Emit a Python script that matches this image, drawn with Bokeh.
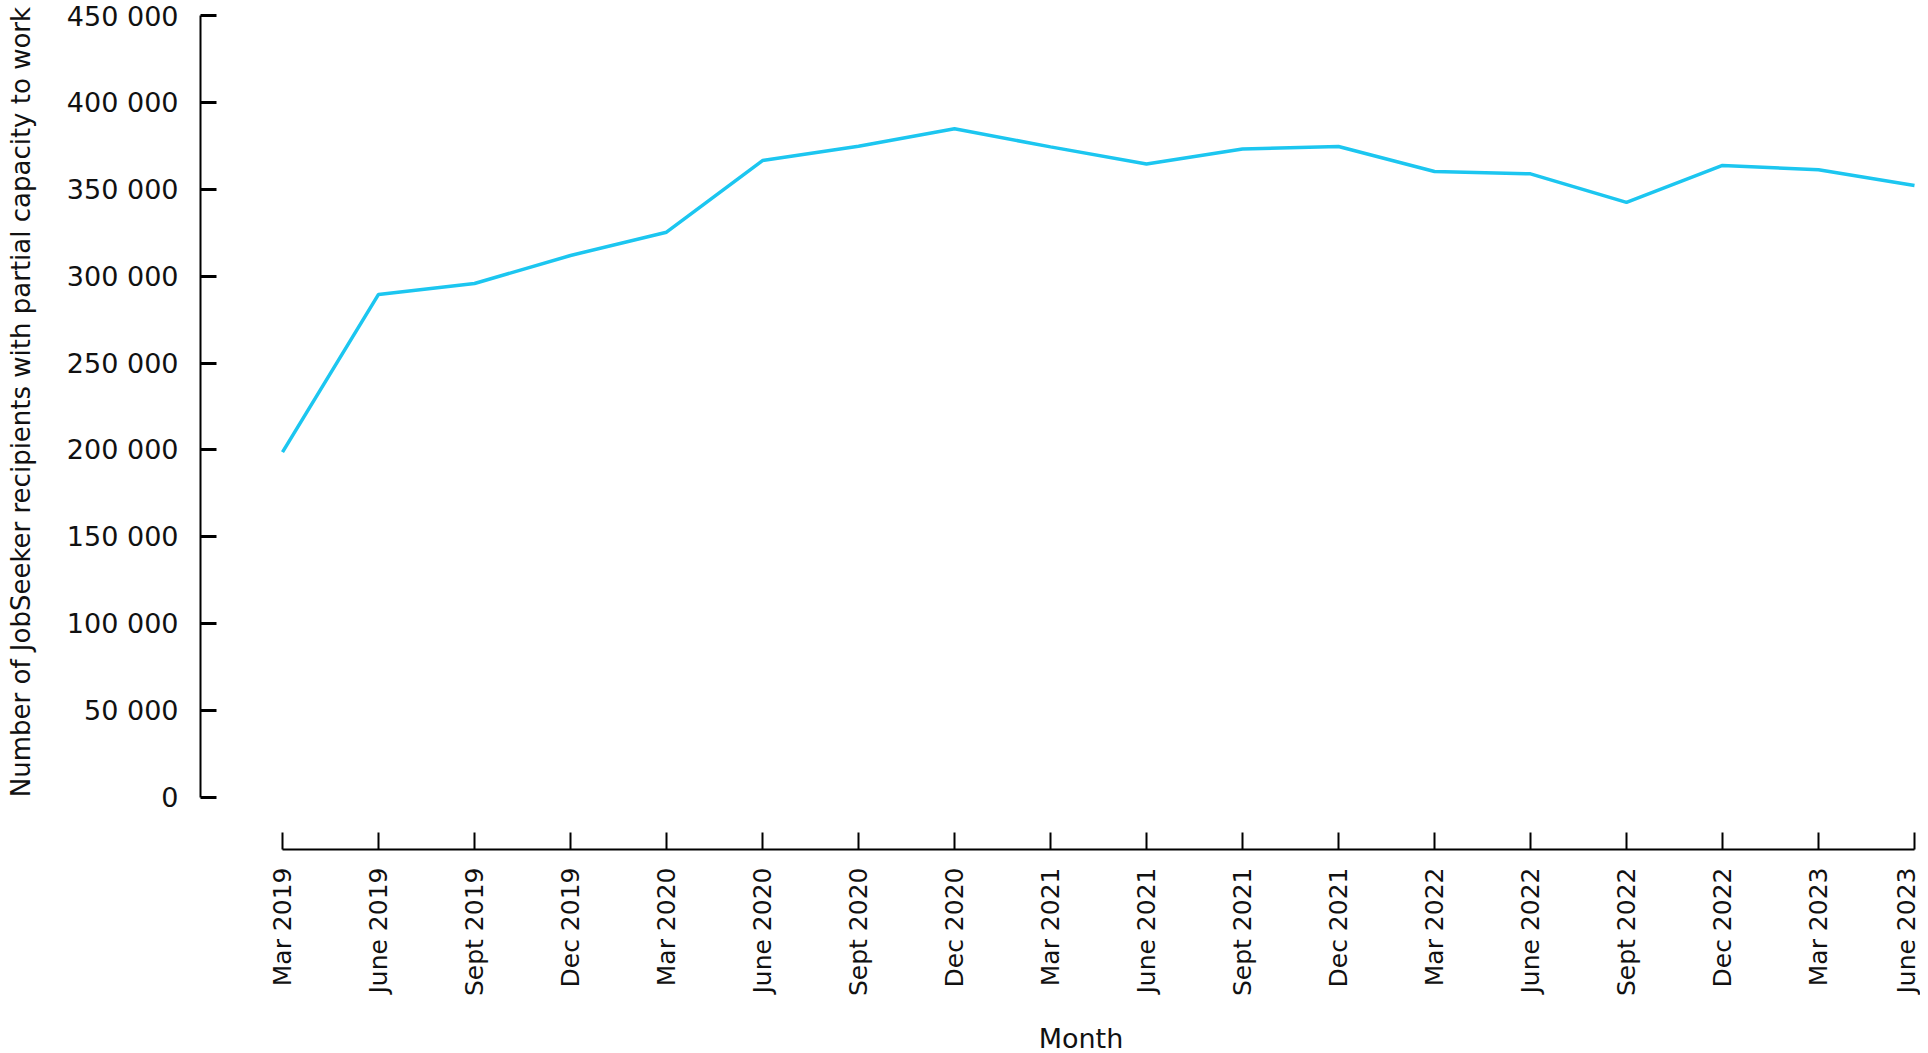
import math
from bokeh.plotting import figure
from bokeh.models import FixedTicker, Range1d
from bokeh.embed import file_html
from bokeh.resources import INLINE

# ---- data ----
months = ["Mar 2019", "June 2019", "Sept 2019", "Dec 2019", "Mar 2020", "June 2020",
          "Sept 2020", "Dec 2020", "Mar 2021", "June 2021", "Sept 2021", "Dec 2021",
          "Mar 2022", "June 2022", "Sept 2022", "Dec 2022", "Mar 2023", "June 2023"]
recipients = [198700, 289500, 295800, 311900, 325300, 366500,
              374800, 384800, 374400, 364600, 373200, 374600,
              360200, 358900, 342500, 363700, 361200, 352200]
y_ticks = [0, 50000, 100000, 150000, 200000, 250000, 300000, 350000, 400000, 450000]
y_tick_labels = ["0", "50 000", "100 000", "150 000", "200 000", "250 000",
                 "300 000", "350 000", "400 000", "450 000"]
x_title = "Month"
y_title = "Number of JobSeeker recipients with partial capacity to work"

FONT = "DejaVu Sans"
TEXT = "#111111"
NBSP = "\u00a0"
x_pos = list(range(len(months)))

p = figure(frame_width=1718, frame_height=837,
           x_range=Range1d(-0.8542, 17.0417), y_range=Range1d(-29923, 451726),
           output_backend="svg", toolbar_location=None,
           min_border_left=200, min_border_right=2, min_border_top=12, min_border_bottom=203)
p.background_fill_color = "white"
p.border_fill_color = "white"
p.outline_line_color = None
p.grid.visible = False

p.line(x_pos, recipients, line_color="#1cc6f0", line_width=3.5)

# x axis
xa = p.xaxis[0]
xa.ticker = FixedTicker(ticks=x_pos)
xa.major_label_overrides = {i: m for i, m in enumerate(months)}
xa.major_label_orientation = math.pi / 2
xa.bounds = (0, len(months) - 1)
xa.major_tick_in = 17
xa.major_tick_out = 0
xa.minor_tick_line_color = None
xa.axis_line_width = 2
xa.axis_line_color = "black"
xa.major_tick_line_width = 2
xa.major_tick_line_color = "black"
xa.major_label_standoff = 18
xa.major_label_text_font = FONT
xa.major_label_text_font_size = "25px"
xa.major_label_text_color = TEXT
# leading no-break spaces shift the centred title to the reference position
xa.axis_label = NBSP * 5 + x_title
xa.axis_label_standoff = 24
xa.axis_label_text_font = FONT
xa.axis_label_text_font_size = "27px"
xa.axis_label_text_font_style = "normal"
xa.axis_label_text_color = TEXT

# y axis
ya = p.yaxis[0]
ya.ticker = FixedTicker(ticks=y_ticks)
ya.major_label_overrides = {t: l for t, l in zip(y_ticks, y_tick_labels)}
ya.bounds = (y_ticks[0], y_ticks[-1])
ya.major_tick_in = 16
ya.major_tick_out = 0
ya.minor_tick_line_color = None
ya.axis_line_width = 2
ya.axis_line_color = "black"
ya.major_tick_line_width = 3
ya.major_tick_line_color = "black"
ya.major_label_standoff = 22
ya.major_label_text_font = FONT
ya.major_label_text_font_size = "27px"
ya.major_label_text_color = TEXT
ya.axis_label = NBSP * 7 + y_title
ya.axis_label_standoff = 28
ya.axis_label_text_font = FONT
ya.axis_label_text_font_size = "26px"
ya.axis_label_text_font_style = "normal"
ya.axis_label_text_color = TEXT

open("out.html", "w").write(file_html(p, INLINE))
